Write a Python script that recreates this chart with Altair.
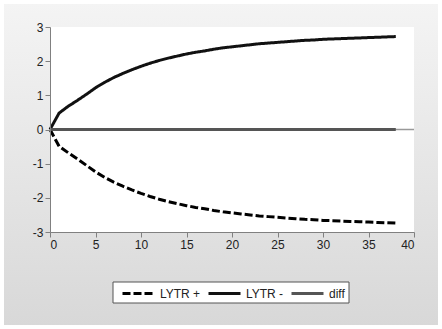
import altair as alt
import pandas as pd

periods = list(range(0, 39))
lytr_minus = [0.00, 0.48, 0.68, 0.85, 1.03, 1.22, 1.38, 1.52, 1.64, 1.75,
              1.85, 1.94, 2.02, 2.09, 2.15, 2.21, 2.26, 2.30, 2.35, 2.39,
              2.42, 2.45, 2.48, 2.51, 2.53, 2.55, 2.57, 2.59, 2.61, 2.62,
              2.64, 2.65, 2.66, 2.67, 2.68, 2.69, 2.70, 2.71, 2.72]
lytr_plus = [0.00, -0.49, -0.68, -0.86, -1.05, -1.24, -1.40, -1.54, -1.66, -1.77,
             -1.87, -1.96, -2.04, -2.11, -2.17, -2.23, -2.28, -2.32, -2.37, -2.41,
             -2.44, -2.47, -2.50, -2.53, -2.55, -2.57, -2.59, -2.61, -2.63, -2.64,
             -2.66, -2.67, -2.68, -2.69, -2.70, -2.71, -2.72, -2.73, -2.74]
diff = [0.0] * 39
series_names = ["LYTR +", "LYTR -", "diff"]
series_colors = ["#000000", "#111111", "#555555"]
series_dash = [[8, 3], [1, 0], [1, 0]]
x_ticks = [0, 5, 10, 15, 20, 25, 30, 35, 40]
y_ticks = [-3, -2, -1, 0, 1, 2, 3]

rows = []
for name, vals in zip(series_names, [lytr_plus, lytr_minus, diff]):
    for t, v in zip(periods, vals):
        rows.append({"t": t, "value": v, "series": name})
df = pd.DataFrame(rows)

W, H = 364, 205
PL, PT = 50, 27
TOTW, TOTH = 442, 329
one = pd.DataFrame({"a": [0]})
legend_x = [121, 207, 290]

bg = alt.Chart(one).mark_rect(
    fill=alt.Gradient(gradient="linear", x1=0, x2=0, y1=0, y2=1,
                      stops=[alt.GradientStop(color="#f4f4f4", offset=0),
                             alt.GradientStop(color="#d8d8d8", offset=1)])
).encode(x=alt.value(-PL + 4), x2=alt.value(TOTW - PL - 4),
         y=alt.value(-PT + 4), y2=alt.value(TOTH - PT - 4))

plotbg = alt.Chart(one).mark_rect(fill="white").encode(
    x=alt.value(0), x2=alt.value(W), y=alt.value(0), y2=alt.value(H))

legbox = alt.Chart(one).mark_rect(fill="white", stroke="#555555", strokeWidth=1).encode(
    x=alt.value(113 - PL), x2=alt.value(349 - PL),
    y=alt.value(282 - PT), y2=alt.value(303 - PT))

minus_expr = "datum.value < 0 ? '-' + abs(datum.value) : '' + datum.value"
xenc = alt.X("t:Q", scale=alt.Scale(domain=[0, 40], nice=False),
             axis=alt.Axis(values=x_ticks, title=None, grid=False, zindex=2,
                           labelOverlap=False))
yenc = alt.Y("value:Q", scale=alt.Scale(domain=[-3, 3], nice=False),
             axis=alt.Axis(values=y_ticks, title=None, grid=False, zindex=2,
                           labelExpr=minus_expr, labelOverlap=False))

zero = alt.Chart(pd.DataFrame({"value": [0]})).mark_rule(color="#999999", strokeWidth=1.5).encode(
    y=yenc, x=alt.value(0), x2=alt.value(W))

line_layers = []
for i, name in enumerate(series_names):
    leg = alt.Legend(title=None, orient="none", direction="horizontal",
                     legendX=legend_x[i] - PL, legendY=292 - 16 - PT, zindex=2)
    line_layers.append(
        alt.Chart(df).transform_filter(alt.datum.series == name).mark_line(strokeWidth=3).encode(
            x=xenc, y=yenc,
            color=alt.Color("series:N", scale=alt.Scale(domain=[name], range=[series_colors[i]]),
                            legend=leg),
            strokeDash=alt.StrokeDash("series:N",
                                      scale=alt.Scale(domain=[name], range=[series_dash[i]]),
                                      legend=leg),
        )
    )

chart = alt.layer(bg, plotbg, legbox, zero, *line_layers).resolve_scale(
    color="independent", strokeDash="independent"
).properties(
    width=W, height=H,
    autosize=alt.AutoSizeParams(type="none"),
    padding={"left": PL, "top": PT, "right": TOTW - PL - W, "bottom": TOTH - PT - H},
).configure(background="white").configure_view(stroke=None).configure_axis(
    domainColor="#808080", tickColor="#808080", tickSize=5,
    labelFont="Liberation Sans", labelFontSize=12, labelColor="#222222",
    labelPadding=2, labelOverlap=False,
).configure_legend(
    padding=0, symbolType="stroke", symbolSize=1024, symbolStrokeWidth=3,
    labelFont="Liberation Sans", labelFontSize=12, labelColor="#222222",
    labelOffset=4,
)

chart.save("out.html", embed_options={"renderer": "svg", "actions": False})
